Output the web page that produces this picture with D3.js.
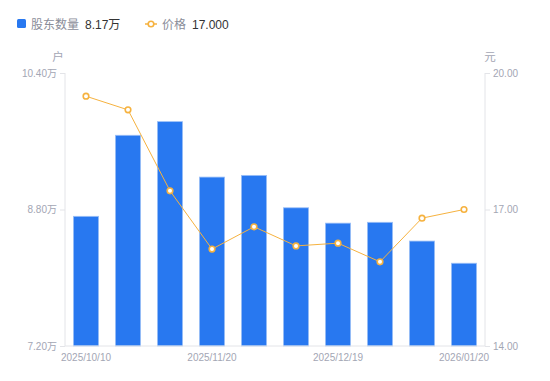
<!DOCTYPE html>
<html><head><meta charset="utf-8">
<script src="https://cdn.jsdelivr.net/npm/d3@7/dist/d3.min.js"></script>
<style>body{margin:0;background:#fff;font-family:"Liberation Sans","Noto Sans CJK SC",sans-serif;}</style>
</head><body><svg id="c" width="550" height="381"></svg>
<script>
const categories = ["2025/10/10","2025/10/20","2025/10/31","2025/11/20","2025/11/28","2025/12/10","2025/12/19","2025/12/31","2026/01/09","2026/01/20"];
const holders = [8.72, 9.67, 9.83, 9.18, 9.20, 8.82, 8.64, 8.65, 8.43, 8.17];
const prices = [19.49, 19.19, 17.41, 16.13, 16.62, 16.20, 16.26, 15.85, 16.81, 17.00];
const leftTicks = [7.2, 8.8, 10.4];
const rightTicks = [14, 17, 20];
const xLabelIdx = [0, 3, 6, 9];

const FF = "'Liberation Sans','Noto Sans CJK SC',sans-serif";
const svg = d3.select("#c").style("font-family", FF);
const L = 65, R = 485, T = 73, B = 346;
const x = d3.scaleBand().domain(categories).range([L, R]).paddingInner(0.4).paddingOuter(0.2);
const yL = d3.scaleLinear().domain([7.2, 10.4]).range([B, T]);
const yR = d3.scaleLinear().domain([14, 20]).range([B, T]);
const grey = "#a3a6b4", axisC = "#e3e4e8";

// axes lines
svg.append("line").attr("x1",L).attr("x2",L).attr("y1",T).attr("y2",B).attr("stroke",axisC);
svg.append("line").attr("x1",R).attr("x2",R).attr("y1",T).attr("y2",B).attr("stroke",axisC);

const gl = svg.append("g").attr("transform",`translate(${L},0)`)
  .call(d3.axisLeft(yL).tickValues(leftTicks).tickSize(5).tickPadding(3).tickFormat(d=>d3.format(".2f")(d)+"万"));
const gr = svg.append("g").attr("transform",`translate(${R},0)`)
  .call(d3.axisRight(yR).tickValues(rightTicks).tickSize(5).tickPadding(3).tickFormat(d3.format(".2f")));
[gl,gr].forEach(g=>{
  g.select(".domain").remove();
  g.selectAll("line").attr("stroke",axisC);
  g.selectAll("text").attr("fill",grey).style("font-size","10px").style("font-family",FF);
});

// bars
svg.append("g").selectAll("rect").data(holders).join("rect")
  .attr("x",(d,i)=>x(categories[i])).attr("width",x.bandwidth())
  .attr("y",d=>yL(d)).attr("height",d=>B-yL(d))
  .attr("fill","#2878f0").attr("stroke","#9cc0f7").attr("stroke-width",0.8);

// x axis
svg.append("line").attr("x1",L).attr("x2",R).attr("y1",B).attr("y2",B).attr("stroke",axisC);
const gx = svg.append("g").attr("transform",`translate(0,${B})`)
  .call(d3.axisBottom(x).tickValues(xLabelIdx.map(i=>categories[i])).tickSize(0).tickPadding(8));
gx.select(".domain").remove();
gx.selectAll("text").attr("fill",grey).style("font-size","10px").style("font-family",FF);

// line
const cx = (d,i)=>x(categories[i])+x.bandwidth()/2;
svg.append("path").datum(prices)
  .attr("d",d3.line().x(cx).y(d=>yR(d)))
  .attr("fill","none").attr("stroke","#f6b23f").attr("stroke-width",1);
svg.append("g").selectAll("circle").data(prices).join("circle")
  .attr("cx",cx).attr("cy",d=>yR(d)).attr("r",2.8)
  .attr("fill","#fff").attr("stroke","#f6b23f").attr("stroke-width",1.6);

// axis names
svg.append("text").attr("x",58).attr("y",61).attr("text-anchor","middle").attr("fill",grey).style("font-size","11.5px").text("户");
svg.append("text").attr("x",490).attr("y",61).attr("text-anchor","middle").attr("fill",grey).style("font-size","11.5px").text("元");

// legend
const lg = svg.append("g").style("font-size","12px");
lg.append("rect").attr("x",17).attr("y",19).attr("width",9).attr("height",9).attr("rx",1.5).attr("fill","#2878f0");
lg.append("text").attr("x",31).attr("y",28.5).attr("fill","#8a8d99").text("股东数量");
lg.append("text").attr("x",85).attr("y",28.5).attr("fill","#333").text(d3.format(".2f")(holders[holders.length-1])+"万");
lg.append("line").attr("x1",145).attr("x2",157).attr("y1",24).attr("y2",24).attr("stroke","#f6b23f").attr("stroke-width",1.5);
lg.append("circle").attr("cx",151).attr("cy",24).attr("r",2.8).attr("fill","#fff").attr("stroke","#f6b23f").attr("stroke-width",1.6);
lg.append("text").attr("x",162).attr("y",28.5).attr("fill","#8a8d99").text("价格");
lg.append("text").attr("x",192).attr("y",28.5).attr("fill","#333").text(d3.format(".3f")(prices[prices.length-1]));
</script></body></html>
